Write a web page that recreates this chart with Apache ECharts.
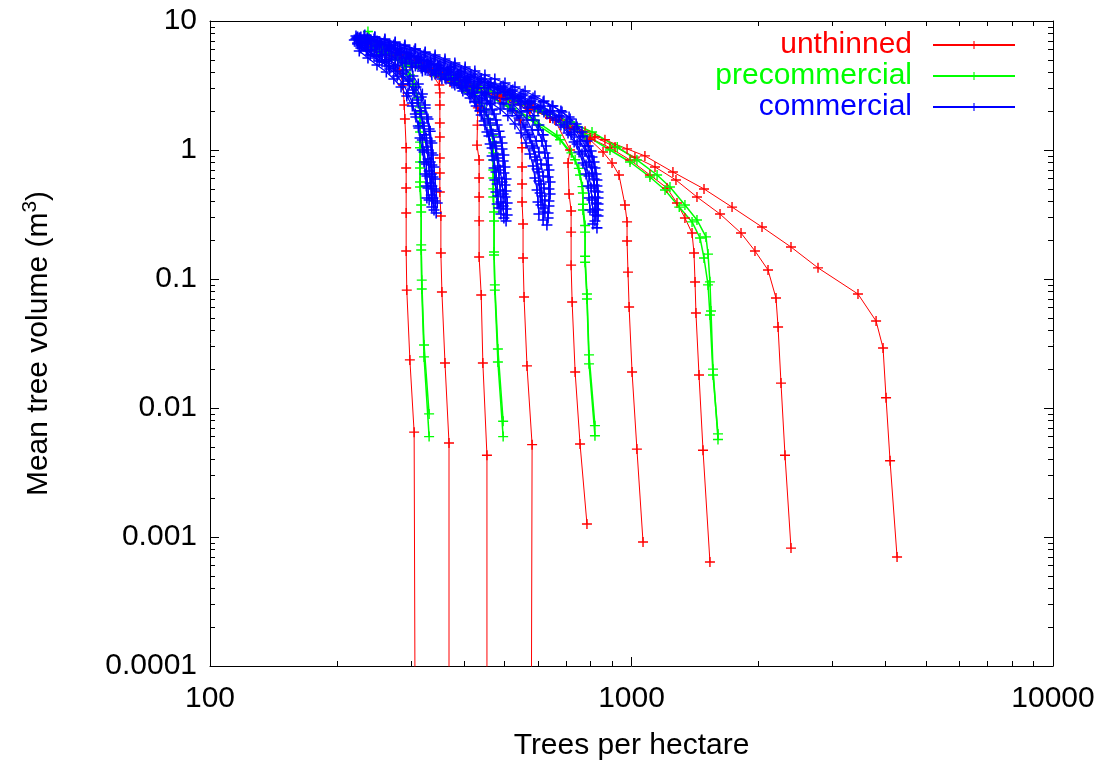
<!DOCTYPE html>
<html><head><meta charset="utf-8">
<script src="https://cdn.jsdelivr.net/npm/echarts@6/dist/echarts.min.js"></script>
<style>html,body{margin:0;padding:0;background:#fff}#c{width:1106px;height:760px}</style>
</head><body><div id="c"></div>
<script>
// ---------- axes / ticks ----------
const xMajorTicks = [100, 1000, 10000];
const xTickLabels = ['100', '1000', '10000'];
const xMinorTicks = [200,300,400,500,600,700,800,900,2000,3000,4000,5000,6000,7000,8000,9000];
const yMajorTicks = [0.0001, 0.001, 0.01, 0.1, 1, 10];
const yTickLabels = ['0.0001', '0.001', '0.01', '0.1', '1', '10'];
const yMinorTicks = [0.0002,0.0003,0.0004,0.0005,0.0006,0.0007,0.0008,0.0009,
  0.002,0.003,0.004,0.005,0.006,0.007,0.008,0.009,
  0.02,0.03,0.04,0.05,0.06,0.07,0.08,0.09,
  0.2,0.3,0.4,0.5,0.6,0.7,0.8,0.9,
  2,3,4,5,6,7,8,9];
const seriesNames = ['unthinned', 'precommercial', 'commercial'];
const seriesColors = ['#ff0000', '#00ff00', '#0000ff'];

// ---------- data: [trees per hectare, mean tree volume m3] ----------
// unthinned
const unthinned1 = [[307,0.00001],[305,0.0065],[298,0.0236],[293,0.082],[292,0.165],[292,0.325],[292,0.507],[292,0.725],[292,1.04],[290,1.74],[289,2.23],[287,3.19],[282,4.17],[260,5.45],[240,6.52],[224,7.38]];
const unthinned2 = [[369,0.00001],[369,0.00535],[361,0.0223],[355,0.0793],[353,0.159],[353,0.308],[351,0.472],[351,0.663],[351,0.867],[351,1.26],[351,1.62],[351,2.23],[351,2.77],[350,3.19],[329,4.32],[306,4.72],[275,5.45],[246,6.29],[227,7.12]];
const unthinned3 = [[454,0.00001],[454,0.0043],[444,0.0223],[440,0.0752],[435,0.148],[435,0.282],[435,0.432],[435,0.607],[435,0.837],[430,1.09],[431,1.56],[432,2.12],[414,2.82],[371,3.37],[333,4.02],[298,4.72],[267,5.45],[240,6.52],[224,7.38]];
const unthinned4 = [[578,0.00001],[581,0.0052],[565,0.0212],[556,0.0725],[553,0.1455],[553,0.267],[550,0.395],[550,0.545],[550,0.739],[550,1.04],[544,1.71],[501,2.67],[437,3.02],[392,3.49],[351,4.02],[315,4.72],[282,5.45],[253,6.29],[227,7.12]];
const unthinned5 = [[784,0.00126],[755,0.00526],[735,0.019],[723,0.0663],[719,0.128],[719,0.231],[719,0.337],[711,0.456],[707,0.793],[715,1.0],[658,1.71],[574,2.23],[488,2.67],[437,3.02],[392,3.49],[351,4.02],[315,4.72],[282,5.45],[253,6.29],[227,7.12]];
const unthinned6 = [[1065,0.000915],[1030,0.0048],[1003,0.019],[987,0.0607],[981,0.113],[976,0.197],[976,0.277],[965,0.375],[934,0.64],[899,0.793],[856,0.965],[797,1.2],[715,1.48],[641,1.77],[574,2.12],[488,2.58],[414,3.08],[351,3.81],[298,4.72],[253,5.96],[227,7.12]];
const unthinned7 = [[1535,0.00064],[1478,0.0047],[1446,0.018],[1422,0.0545],[1415,0.0948],[1407,0.159],[1392,0.227],[1339,0.297],[1282,0.388],[1214,0.507],[1106,0.64],[992,0.837],[889,1.04],[797,1.24],[715,1.48],[641,1.77],[574,2.12],[488,2.58],[414,3.08],[351,3.81],[298,4.72],[253,5.96],[227,7.12]];
const unthinned8 = [[2390,0.00082],[2313,0.0043],[2263,0.0156],[2227,0.0424],[2202,0.0712],[2108,0.1175],[1963,0.165],[1819,0.227],[1622,0.319],[1430,0.432],[1275,0.585],[1137,0.739],[1019,0.88],[914,1.055],[819,1.26],[715,1.51],[641,1.77],[574,2.12],[488,2.58],[414,3.08],[351,3.81],[298,4.72],[253,5.96],[227,7.12]];
const unthinned9 = [[4266,0.0007],[4106,0.0039],[4017,0.012],[3952,0.0292],[3804,0.0472],[3446,0.0765],[2770,0.122],[2390,0.177],[2040,0.253],[1732,0.361],[1486,0.499],[1254,0.675],[1076,0.9],[976,1.02],[865,1.2],[776,1.4],[677,1.71],[574,2.05],[488,2.5],[414,3.0],[351,3.7],[298,4.6],[253,5.8],[227,7.0]];

// precommercial
const precommercial1 = [[331,0.006],[322,0.0249],[318,0.0837],[317,0.168],[317,0.331],[315,0.517],[315,0.725],[315,1.04],[315,1.38],[315,1.77],[315,2.15],[305,3.19],[290,4.48],[267,5.55],[246,6.52],[237,8.3]];
const precommercial2 = [[331,0.009],[322,0.0308],[318,0.098],[317,0.184],[317,0.375],[315,0.565],[315,0.807],[315,1.15],[315,1.54],[315,1.97],[311,2.53],[298,3.81],[279,4.99],[257,5.96],[237,7.0]];
const precommercial3 = [[496,0.006],[482,0.0227],[474,0.082],[472,0.1535],[472,0.2816],[470,0.432],[470,0.607],[470,0.837],[470,1.13],[462,1.56],[449,2.04],[414,2.82],[351,3.81],[298,4.72],[253,5.96],[227,7.12]];
const precommercial4 = [[496,0.0079],[482,0.0287],[474,0.09],[472,0.162],[472,0.331],[470,0.5],[470,0.7],[470,0.95],[468,1.3],[458,1.75],[440,2.3],[400,3.0],[340,4.0],[290,5.0],[245,6.3]];
const precommercial5 = [[819,0.0061],[793,0.022],[784,0.07],[776,0.135],[776,0.231],[767,0.343],[767,0.464],[755,0.64],[735,0.84],[677,1.2],[600,1.56],[520,2.1],[440,2.8],[370,3.6],[300,4.6],[250,6.0],[225,7.1]];
const precommercial6 = [[819,0.0073],[793,0.0258],[784,0.0765],[776,0.15],[776,0.26],[767,0.38],[765,0.52],[750,0.72],[720,0.95],[665,1.3],[590,1.7],[510,2.2],[430,2.9],[360,3.8],[295,4.8],[245,6.2]];
const precommercial7 = [[1604,0.0057],[1561,0.02],[1544,0.0565],[1535,0.095],[1519,0.156],[1502,0.212],[1430,0.287],[1339,0.375],[1234,0.517],[1150,0.64],[1030,0.837],[925,1.055],[806,1.38],[715,1.65],[620,2.0],[530,2.5],[450,3.0],[380,3.7],[310,4.6],[260,5.7],[228,7.0]];
const precommercial8 = [[1604,0.0063],[1561,0.018],[1535,0.0526],[1519,0.09],[1486,0.1455],[1454,0.208],[1392,0.277],[1298,0.361],[1201,0.49],[1106,0.618],[992,0.807],[889,1.0],[776,1.31],[690,1.6],[600,2.0],[510,2.5],[430,3.1],[360,3.9],[300,4.8],[250,6.0]];

// commercial
const commercial1 = [[344,0.325],[342,0.402],[340,0.499],[338,0.618],[336,0.765],[335,0.948],[333,1.175],[331,1.455],[327,1.80],[324,2.23],[319,2.72],[312,3.25],[303,3.75],[292,4.17],[279,4.56],[266,4.99],[253,5.45],[241,5.96],[229,6.52],[220,7.12]];
const commercial2 = [[336,0.361],[335,0.448],[333,0.555],[331,0.688],[329,0.852],[326,1.055],[322,1.31],[319,1.62],[315,2.01],[310,2.44],[303,2.92],[295,3.43],[286,3.88],[273,4.32],[260,4.81],[248,5.35],[236,5.96],[224,6.63]];
const commercial3 = [[327,0.424],[326,0.526],[324,0.652],[322,0.807],[319,1.0],[315,1.24],[312,1.535],[307,1.90],[302,2.31],[295,2.77],[287,3.25],[278,3.75],[267,4.25],[256,4.81],[245,5.35],[235,5.96],[224,6.75]];
const commercial4 = [[340,0.343],[338,0.424],[336,0.526],[335,0.652],[333,0.807],[329,1.0],[326,1.24],[322,1.535],[317,1.90],[312,2.31],[305,2.77],[297,3.25],[287,3.68],[276,4.10],[265,4.48],[252,4.90],[240,5.45],[228,6.18]];
const commercial5 = [[331,0.410],[329,0.507],[327,0.629],[326,0.779],[322,0.965],[319,1.195],[313,1.48],[308,1.80],[302,2.19],[293,2.62],[284,3.08],[273,3.55],[262,4.02],[249,4.56],[237,5.17],[226,5.85]];
const commercial6 = [[346,0.388],[344,0.481],[342,0.596],[340,0.739],[338,0.915],[336,1.133],[333,1.40],[329,1.74],[324,2.12],[317,2.58],[308,3.08],[298,3.55],[287,4.02],[275,4.48],[262,4.90],[249,5.35],[237,5.85],[226,6.40]];
const commercial7 = [[504,0.282],[504,0.349],[501,0.432],[501,0.535],[498,0.663],[496,0.822],[493,1.018],[488,1.26],[480,1.56],[472,1.90],[462,2.27],[449,2.67],[432,3.03],[414,3.37],[394,3.68],[373,4.02],[353,4.32],[335,4.64],[317,4.99],[300,5.35],[284,5.75],[269,6.18],[255,6.63],[241,7.12],[228,7.52]];
const commercial8 = [[490,0.319],[490,0.395],[488,0.490],[485,0.607],[482,0.752],[477,0.931],[472,1.153],[464,1.43],[457,1.74],[447,2.08],[435,2.44],[421,2.82],[405,3.14],[388,3.49],[369,3.81],[349,4.10],[331,4.40],[313,4.72],[297,5.08],[281,5.45],[266,5.85],[252,6.29],[238,6.75],[226,7.25]];
const commercial9 = [[480,0.381],[477,0.472],[474,0.585],[472,0.725],[467,0.899],[462,1.113],[454,1.38],[447,1.68],[437,2.01],[425,2.36],[412,2.72],[396,3.03],[379,3.31],[361,3.62],[342,3.88],[324,4.17],[307,4.48],[290,4.81],[275,5.17],[260,5.55],[246,6.07],[233,6.63],[222,7.25]];
const commercial10 = [[498,0.297],[496,0.368],[496,0.456],[493,0.565],[488,0.700],[482,0.867],[477,1.074],[469,1.33],[462,1.62],[452,1.97],[440,2.31],[425,2.62],[409,2.92],[392,3.19],[373,3.49],[353,3.75],[335,4.02],[317,4.32],[300,4.64],[284,4.99],[269,5.35],[255,5.75],[241,6.29],[229,6.87]];
const commercial11 = [[485,0.355],[482,0.440],[480,0.545],[477,0.675],[472,0.837],[467,1.036],[459,1.285],[449,1.56],[440,1.87],[428,2.19],[414,2.53],[398,2.87],[381,3.19],[363,3.55],[344,3.95],[326,4.32],[308,4.72],[292,5.17],[276,5.65],[262,6.07],[248,6.52],[235,7.00]];
const commercial12 = [[507,0.314],[507,0.388],[504,0.481],[504,0.596],[501,0.739],[498,0.915],[493,1.133],[485,1.40],[477,1.71],[467,2.04],[454,2.40],[440,2.77],[423,3.14],[405,3.49],[386,3.81],[365,4.17],[346,4.56],[327,4.90],[310,5.26],[293,5.65],[278,6.07],[263,6.52],[249,7.00],[236,7.38]];
const commercial13 = [[630,0.262],[634,0.325],[637,0.402],[637,0.499],[634,0.618],[630,0.765],[623,0.948],[613,1.175],[600,1.43],[584,1.71],[565,2.01],[544,2.27],[521,2.53],[496,2.82],[472,3.08],[447,3.37],[423,3.68],[401,4.02],[379,4.40],[359,4.72],[340,5.08],[322,5.45],[305,5.85],[289,6.18],[273,6.52],[259,6.87],[245,7.25],[232,7.65]];
const commercial14 = [[617,0.287],[617,0.355],[613,0.440],[610,0.545],[603,0.675],[597,0.837],[587,1.036],[574,1.26],[559,1.51],[541,1.77],[521,2.01],[498,2.27],[474,2.53],[452,2.77],[428,3.03],[405,3.31],[383,3.62],[363,3.88],[344,4.17],[326,4.48],[308,4.81],[292,5.17],[276,5.55],[262,5.96],[248,6.40],[235,6.87],[223,7.38]];
const commercial15 = [[623,0.331],[623,0.410],[620,0.507],[617,0.629],[610,0.779],[603,0.965],[594,1.175],[581,1.43],[565,1.71],[547,1.97],[526,2.23],[504,2.49],[480,2.77],[457,3.03],[432,3.25],[409,3.49],[388,3.75],[367,4.02],[348,4.32],[329,4.64],[312,4.99],[295,5.35],[279,5.75],[265,6.18],[250,6.52],[237,7.00],[226,7.38]];
const commercial16 = [[610,0.375],[607,0.464],[603,0.575],[597,0.713],[590,0.883],[581,1.074],[568,1.31],[553,1.56],[535,1.84],[515,2.08],[493,2.31],[469,2.58],[447,2.82],[423,3.08],[401,3.37],[379,3.62],[359,3.88],[340,4.17],[322,4.48]];
const commercial17 = [[634,0.297],[637,0.368],[641,0.456],[641,0.565],[637,0.700],[634,0.867],[627,1.074],[617,1.31],[603,1.56],[587,1.84],[568,2.12],[547,2.40],[523,2.67],[498,2.97],[474,3.25],[449,3.55],[425,3.88],[403,4.25],[381,4.56],[361,4.90],[342,5.26],[324,5.65],[307,6.07],[290,6.52],[275,6.87],[260,7.25],[246,7.52]];
const commercial18 = [[603,0.319],[600,0.395],[597,0.490],[590,0.607],[584,0.752],[574,0.931],[562,1.133],[547,1.355],[529,1.59],[509,1.84],[488,2.08],[464,2.31],[442,2.53],[418,2.77],[396,3.03],[375,3.31],[355,3.55],[336,3.81],[319,4.10],[302,4.40],[286,4.72],[270,5.08],[256,5.45],[242,5.96],[229,6.52]];
const commercial19 = [[828,0.249],[833,0.308],[833,0.381],[833,0.472],[828,0.585],[819,0.725],[806,0.883],[789,1.074],[767,1.285],[743,1.51],[715,1.74],[684,1.97],[651,2.19],[620,2.40],[590,2.62],[559,2.87],[529,3.08],[501,3.31],[474,3.55],[449,3.81],[425,4.10],[403,4.40],[381,4.72],[361,5.08],[342,5.45],[324,5.75],[307,6.07],[290,6.40],[275,6.75],[260,7.12],[246,7.52],[233,7.79],[222,7.65]];
const commercial20 = [[810,0.267],[810,0.331],[806,0.410],[802,0.507],[793,0.629],[780,0.765],[763,0.931],[743,1.113],[719,1.31],[692,1.51],[662,1.71],[630,1.90],[600,2.08],[568,2.27],[538,2.49],[509,2.67],[482,2.92],[457,3.14],[432,3.37],[409,3.62],[388,3.88],[367,4.17],[348,4.48],[329,4.81],[312,5.17],[295,5.55],[279,5.96],[265,6.40],[250,6.87],[237,7.25],[224,7.52]];
const commercial21 = [[824,0.314],[824,0.388],[819,0.481],[815,0.596],[806,0.739],[793,0.899],[776,1.074],[755,1.26],[731,1.455],[703,1.65],[673,1.84],[641,2.01],[610,2.19],[578,2.40],[547,2.62],[518,2.87],[490,3.08],[464,3.31],[440,3.55],[416,3.81],[394,4.10],[373,4.40]];
const commercial22 = [[797,0.343],[793,0.424],[789,0.526],[780,0.652],[767,0.793],[751,0.965],[731,1.153],[707,1.355],[680,1.56],[651,1.77],[620,1.97],[590,2.15],[559,2.36],[529,2.58],[501,2.82]];
const commercial23 = [[819,0.282],[819,0.349],[819,0.432],[815,0.535],[806,0.663],[793,0.807],[776,0.982],[755,1.175],[731,1.38],[703,1.59],[673,1.80],[641,1.97],[607,2.15],[574,2.36],[544,2.58],[515,2.77],[488,2.97],[462,3.19],[437,3.43],[414,3.68],[392,3.95],[371,4.25],[351,4.56],[333,4.90],[315,5.26],[298,5.65],[282,6.07],[267,6.40],[253,6.75],[240,7.12],[227,7.38]];
const commercial24 = [[833,0.343],[833,0.424],[828,0.526],[824,0.652],[815,0.807],[802,0.982],[784,1.175],[763,1.38],[739,1.59],[711,1.80],[680,2.01],[648,2.19],[617,2.36],[584,2.53],[553,2.72],[523,2.92],[496,3.14]];

const unthinnedCurves = [unthinned1, unthinned2, unthinned3, unthinned4, unthinned5, unthinned6, unthinned7, unthinned8, unthinned9];
const precommercialCurves = [precommercial1, precommercial2, precommercial3, precommercial4, precommercial5, precommercial6, precommercial7, precommercial8];
const commercialCurves = [commercial1, commercial2, commercial3, commercial4, commercial5, commercial6,
  commercial7, commercial8, commercial9, commercial10, commercial11, commercial12,
  commercial13, commercial14, commercial15, commercial16, commercial17, commercial18,
  commercial19, commercial20, commercial21, commercial22, commercial23, commercial24];

// ---------- chart ----------
const fontFam = '"Liberation Sans", Arial, Helvetica, sans-serif';
const plusSymbol = 'path://M0,4.3H10V5.7H0Z M4.3,0H5.7V10H4.3Z';

function labelFor(ticks, labels) {
  return function (v) {
    for (let i = 0; i < ticks.length; i++) {
      if (Math.abs(Math.log10(ticks[i]) - Math.log10(v)) < 1e-6) return labels[i];
    }
    return '';
  };
}

const xBase = { type: 'log', logBase: 10, min: 100, max: 10000, gridIndex: 0,
  splitLine: { show: false }, minorTick: { show: false }, minorSplitLine: { show: false } };
const yBase = { type: 'log', logBase: 10, min: 0.0001, max: 10, gridIndex: 0,
  splitLine: { show: false }, minorTick: { show: false }, minorSplitLine: { show: false } };
const lineBlack = { color: '#000', width: 1 };

function tickAxis(base, pos, ticks, len, showLine) {
  return Object.assign({}, base, {
    position: pos,
    axisLine: { show: showLine, onZero: false, lineStyle: lineBlack },
    axisTick: { show: true, inside: true, length: len, customValues: ticks, lineStyle: lineBlack },
    axisLabel: { show: false }
  });
}

const xMain = Object.assign({}, xBase, {
  position: 'bottom',
  axisLine: { show: true, onZero: false, lineStyle: lineBlack },
  axisTick: { show: true, inside: true, length: 9, customValues: xMajorTicks, lineStyle: lineBlack },
  axisLabel: { show: true, customValues: xMajorTicks, formatter: labelFor(xMajorTicks, xTickLabels),
    fontSize: 30, color: '#000', fontFamily: fontFam, margin: 18 },
  name: 'Trees per hectare', nameLocation: 'middle', nameGap: 65,
  nameTextStyle: { fontSize: 30, color: '#000', fontFamily: fontFam }
});
const yMain = Object.assign({}, yBase, {
  position: 'left',
  axisLine: { show: true, onZero: false, lineStyle: lineBlack },
  axisTick: { show: true, inside: true, length: 9, customValues: yMajorTicks, lineStyle: lineBlack },
  axisLabel: { show: true, customValues: yMajorTicks, formatter: labelFor(yMajorTicks, yTickLabels),
    fontSize: 30, color: '#000', fontFamily: fontFam, margin: 13 },
  name: 'Mean tree volume (m{sup|3})', nameLocation: 'middle', nameGap: 152, nameRotate: 90,
  nameTextStyle: { fontSize: 30, color: '#000', fontFamily: fontFam, lineHeight: 38,
    rich: { sup: { fontSize: 21, lineHeight: 21, color: '#000', fontFamily: fontFam, verticalAlign: 'top' } } }
});

function mkSeries(name, color, data, lw, size) {
  return { type: 'line', name: name, data: data, xAxisIndex: 0, yAxisIndex: 0,
    symbol: plusSymbol, symbolSize: size, showSymbol: true, showAllSymbol: true,
    lineStyle: { color: color, width: lw }, itemStyle: { color: color, borderWidth: 0 },
    emphasis: { disabled: true }, silent: true, clip: true, animation: false };
}

const series = [];
unthinnedCurves.forEach(d => series.push(mkSeries(seriesNames[0], seriesColors[0], d, 1, 10)));
precommercialCurves.forEach(d => series.push(mkSeries(seriesNames[1], seriesColors[1], d, 1.5, 10)));
commercialCurves.forEach(d => series.push(mkSeries(seriesNames[2], seriesColors[2], d, 1.2, 11)));

const chart = echarts.init(document.getElementById('c'), null, { renderer: 'canvas' });
chart.setOption({
  backgroundColor: '#fff',
  animation: false,
  grid: { left: 210, right: 53, top: 21, bottom: 94, containLabel: false, outerBoundsMode: 'none' },
  xAxis: [
    xMain,
    tickAxis(xBase, 'bottom', xMinorTicks, 5, false),
    tickAxis(xBase, 'top', xMajorTicks, 9, true),
    tickAxis(xBase, 'top', xMinorTicks, 5, false)
  ],
  yAxis: [
    yMain,
    tickAxis(yBase, 'left', yMinorTicks, 5, false),
    tickAxis(yBase, 'right', yMajorTicks, 9, true),
    tickAxis(yBase, 'right', yMinorTicks, 5, false)
  ],
  legend: seriesNames.map((n, i) => ({
    data: [n], right: 90, top: 30 + i * 31, orient: 'horizontal', align: 'right',
    itemWidth: 82, itemHeight: 10, padding: 0, itemGap: 0, selectedMode: false,
    textStyle: { color: seriesColors[i], fontSize: 30, fontFamily: fontFam, padding: [0, 16, 0, 0] }
  })),
  series: series
});
</script>
</body></html>
